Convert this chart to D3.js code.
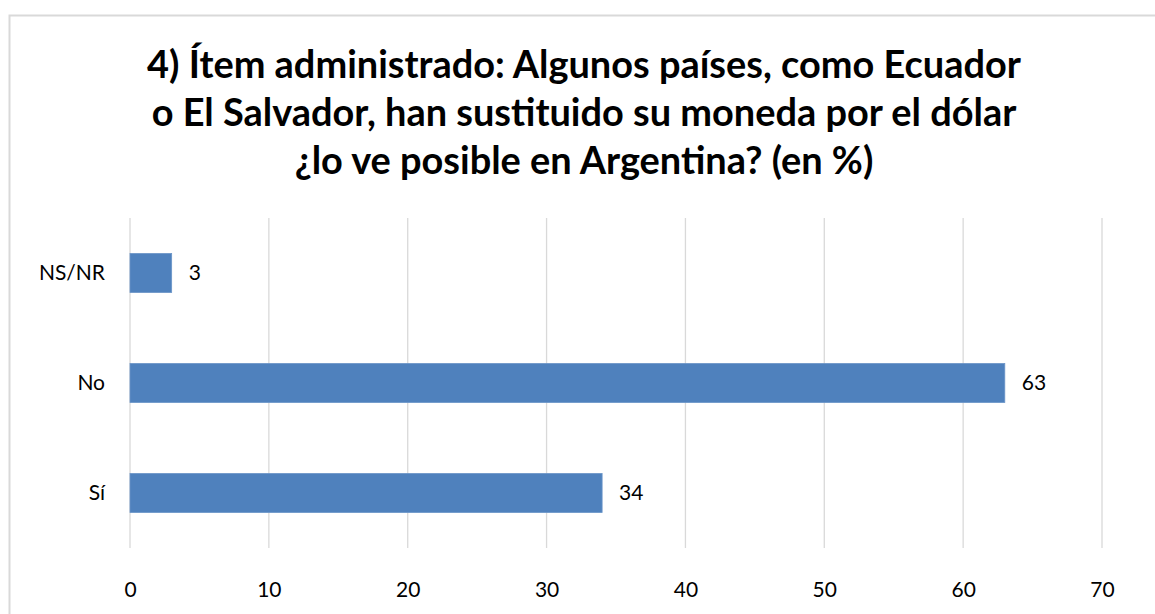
<!DOCTYPE html>
<html><head><meta charset="utf-8">
<script src="https://cdn.jsdelivr.net/npm/d3@7"></script>
<style>html,body{margin:0;padding:0;background:#fff;}svg{display:block;}</style>
</head><body>
<svg id="c" width="1155" height="614"></svg>
<script>
const categories = ["NS/NR", "No", "Sí"];
const values = [3, 63, 34];
const tickValues = [0, 10, 20, 30, 40, 50, 60, 70];
const titleLines = [
  "4) Ítem administrado: Algunos países, como Ecuador",
  "o El Salvador, han sustituido su moneda por el dólar",
  "¿lo ve posible en Argentina? (en %)"
];

const svg = d3.select("#c");
const font = "Lato, 'Open Sans', sans-serif";

// chart border
svg.append("rect").attr("x", 9.5).attr("y", 15.5).attr("width", 1200).attr("height", 700)
  .attr("fill", "#fff").attr("stroke", "#d9d9d9").attr("stroke-width", 2);

const x = d3.scaleLinear().domain([0, 70]).range([130, 1102]);
const y = d3.scaleBand().domain(categories).range([218, 548]).paddingInner(0.645).paddingOuter(0.3225);

// title
const title = svg.append("text").attr("text-anchor", "middle")
  .attr("font-family", font).attr("font-weight", "bold").attr("font-size", 30).attr("fill", "#000");
const baselines = [78, 126, 174];
titleLines.forEach((t, i) => {
  title.append("tspan").attr("x", 584).attr("y", baselines[i]).text(t);
});
const w0 = title.select("tspan").node().getComputedTextLength();
title.attr("font-size", 30 * 874 / w0);

// gridlines
svg.append("g").selectAll("line").data(tickValues).join("line")
  .attr("x1", d => x(d)).attr("x2", d => x(d))
  .attr("y1", 218).attr("y2", 548)
  .attr("stroke", "#d9d9d9").attr("stroke-width", 1.3);

// x axis tick labels
const xAxis = d3.axisBottom(x).tickValues(tickValues).tickSize(0).tickPadding(0);
const gx = svg.append("g").attr("transform", "translate(0,590)").call(xAxis);
gx.select(".domain").remove();
gx.selectAll("text").attr("font-family", font).attr("font-size", 21).attr("fill", "#000").attr("dy", "0.35em");

// y axis labels
const yAxis = d3.axisLeft(y).tickSize(0).tickPadding(0);
const gy = svg.append("g").attr("transform", "translate(105,0)").call(yAxis);
gy.select(".domain").remove();
gy.selectAll("text").attr("font-family", font).attr("font-size", 21).attr("fill", "#000");

// bars
svg.append("g").selectAll("rect").data(categories).join("rect")
  .attr("x", x(0)).attr("y", d => y(d))
  .attr("width", (d, i) => x(values[i]) - x(0)).attr("height", y.bandwidth())
  .attr("fill", "#4f81bd").attr("stroke", "#6b95c8").attr("stroke-width", 0.8);

// value labels
svg.append("g").selectAll("text").data(categories).join("text")
  .attr("x", (d, i) => x(values[i]) + 17).attr("y", d => y(d) + y.bandwidth() / 2)
  .attr("dy", "0.35em").attr("font-family", font).attr("font-size", 21).attr("fill", "#000")
  .text((d, i) => values[i]);
</script>
</body></html>
